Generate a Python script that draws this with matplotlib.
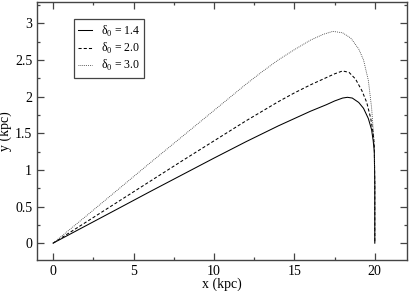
import matplotlib
matplotlib.use("Agg")
from matplotlib import pyplot as plt
import matplotlib.ticker as tick

plt.rcParams['font.family'] = ['Liberation Serif', 'DejaVu Serif']
plt.rcParams['mathtext.fontset'] = 'custom'
plt.rcParams['mathtext.rm'] = 'Liberation Serif'

# delta_0 = 1.4
x1 = [0, 2, 4, 6, 8, 10, 12, 14, 15, 16, 17, 17.5, 18, 18.3, 18.6, 19.0, 19.3, 19.6, 19.8, 19.9, 19.97, 20.0, 20.0]
y1 = [0, 0.233, 0.466, 0.70, 0.93, 1.16, 1.385, 1.60, 1.70, 1.80, 1.89, 1.94, 1.98, 1.99, 1.98, 1.92, 1.84, 1.70, 1.55, 1.40, 1.25, 0.8, 0]

# delta_0 = 2.0
x2 = [0, 2, 4, 6, 8, 10, 12, 13, 14, 15, 16, 17, 17.5, 18, 18.4, 18.8, 19.2, 19.5, 19.75, 19.9, 19.97, 20.0, 20.0]
y2 = [0, 0.28, 0.56, 0.84, 1.12, 1.395, 1.67, 1.80, 1.93, 2.05, 2.16, 2.26, 2.31, 2.35, 2.33, 2.24, 2.08, 1.92, 1.70, 1.50, 1.33, 0.8, 0]

# delta_0 = 3.0
x3 = [0, 2, 4, 6, 8, 10, 12, 13, 14, 15, 16, 16.8, 17.4, 18, 18.5, 19, 19.3, 19.6, 19.8, 19.92, 19.97, 20.0, 20.0]
y3 = [0, 0.36, 0.725, 1.09, 1.45, 1.81, 2.17, 2.34, 2.50, 2.64, 2.77, 2.85, 2.89, 2.87, 2.80, 2.65, 2.50, 2.22, 1.85, 1.50, 1.30, 0.8, 0]

labels = [r'δ$_0$ = 1.4', r'δ$_0$ = 2.0', r'δ$_0$ = 3.0']

fig = plt.figure(figsize=(4.09, 2.91), dpi=100)
ax = fig.add_axes([0.0905, 0.1065, 0.9045, 0.8865])

ax.plot(x1, y1, color='black', lw=0.75, ls='-', label=labels[0])
ax.plot(x2, y2, color='black', lw=0.75, ls=(0, (3, 2)), label=labels[1])
ax.plot(x3, y3, color='#333333', lw=0.6, ls=(0, (1, 1.3)), label=labels[2])

ax.set_xlim(-1, 22)
ax.set_ylim(-0.23, 3.29)
ax.xaxis.set_major_locator(tick.MultipleLocator(5))
ax.xaxis.set_minor_locator(tick.MultipleLocator(2.5))
ax.yaxis.set_major_locator(tick.MultipleLocator(0.5))
ax.yaxis.set_minor_locator(tick.MultipleLocator(0.25))
ax.yaxis.set_major_formatter(tick.FuncFormatter(lambda v, p: ('%g' % v)))
ax.tick_params(which='both', direction='in', top=True, right=True, labelsize=10, color='#444444')
ax.tick_params(which='major', length=5, width=0.9)
ax.tick_params(which='minor', length=2.5, width=0.9)
for s in ax.spines.values():
    s.set_color('#444444')
    s.set_linewidth(1.0)

ax.set_xlabel('x (kpc)', fontsize=10, labelpad=0)
ax.set_ylabel('y (kpc)', fontsize=10, labelpad=2)

leg = ax.legend(loc='upper left', bbox_to_anchor=(0.1, 0.933), borderaxespad=0,
                fontsize=8.5, fancybox=False, handlelength=1.2, handletextpad=0.7,
                framealpha=1, borderpad=0.35, labelspacing=0.2)
leg.get_frame().set_edgecolor('#444444')
leg.get_frame().set_linewidth(0.9)

plt.savefig('out.png', dpi=100)
